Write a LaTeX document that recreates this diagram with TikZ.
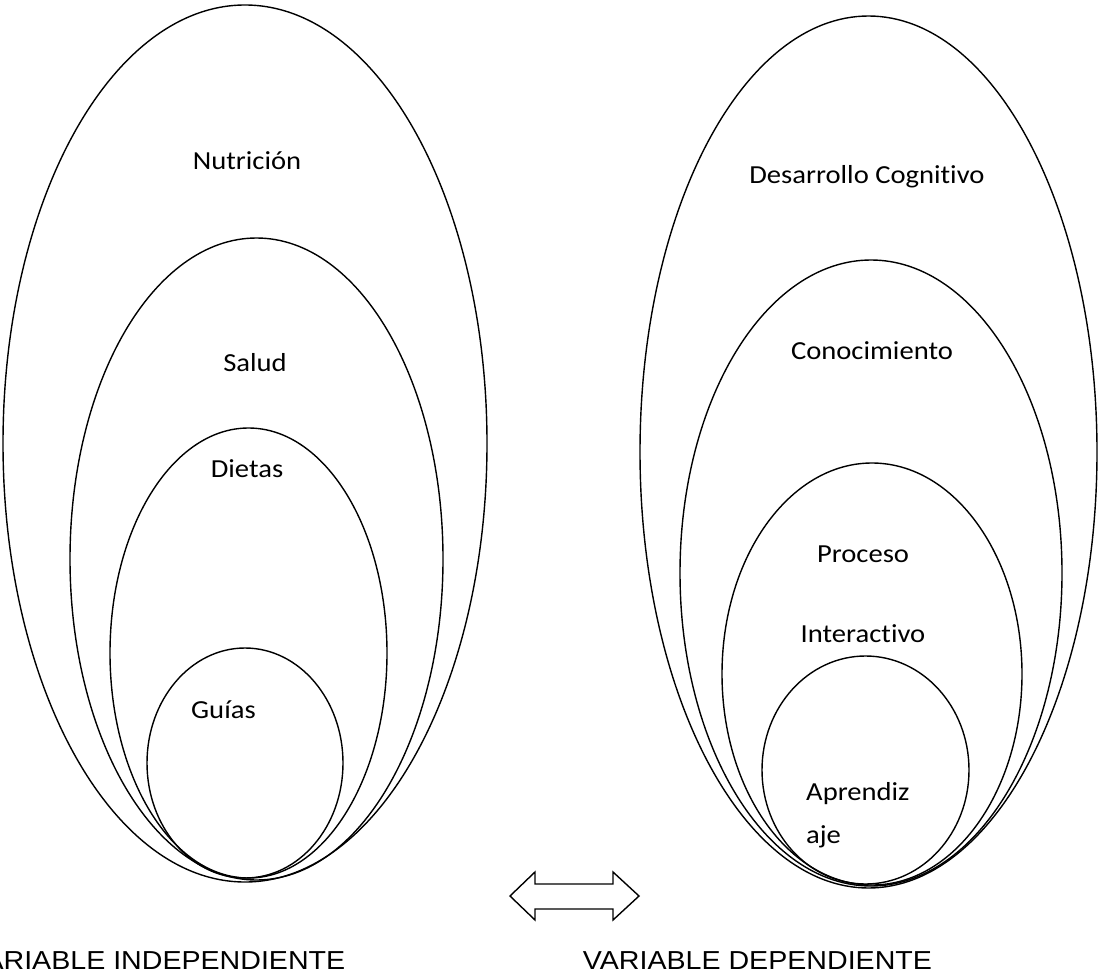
\documentclass[tikz,border=0pt]{standalone}
\usepackage{fontspec}
\newfontfamily\labfont[FakeStretch=1.1,Ligatures=NoCommon]{Carlito}
\newfontfamily\capfont[FakeStretch=1.1]{Liberation Sans}
\begin{document}
\begin{tikzpicture}[x=1pt,y=-1pt,
  ring/.style={draw=black,line width=1.4pt},
  lab/.style={inner sep=0pt,anchor=base,font=\labfont\fontsize{26}{30}\selectfont},
  captext/.style={inner sep=0pt,font=\capfont\fontsize{26}{30}\selectfont}]
\useasboundingbox (0,0) rectangle (1100,979);
\clip (0,0) rectangle (1100,979);
% left ellipses
\draw[ring] (245,443.5) ellipse [x radius=242,y radius=438.5];
\draw[ring] (256.5,559) ellipse [x radius=186.5,y radius=321];
\draw[ring] (248.5,653) ellipse [x radius=138.5,y radius=225];
\draw[ring] (245,763) ellipse [x radius=98,y radius=115];
% right ellipses
\draw[ring] (868.5,452) ellipse [x radius=228.5,y radius=436];
\draw[ring] (871,573) ellipse [x radius=191,y radius=313];
\draw[ring] (872,674) ellipse [x radius=150,y radius=211];
\draw[ring] (865.5,770) ellipse [x radius=103.5,y radius=114];
% labels
\node[lab] (nut) at (247,169) {Nutrición};
\node[lab] (sal) at (255,371) {Salud};
\node[lab] (die) at (247,477) {Dietas};
\node[lab,anchor=base west] (gui) at (191,718) {Guías};
\node[lab] (des) at (867,183) {Desarrollo Cognitivo};
\node[lab] (con) at (872,359) {Conocimiento};
\node[lab] (pro) at (863,562) {Proceso};
\node[lab] (int) at (863,642) {Interactivo};
\node[lab,anchor=base west] (apr) at (806,800) {Aprendiz};
\node[lab,anchor=base west] (aje) at (806,843) {aje};
% double arrow
\draw[line width=1.4pt,line join=miter]
  (510,896) -- (535,872) -- (535,884) -- (613,884) -- (613,872) -- (639,896)
  -- (613,920) -- (613,909) -- (535,909) -- (535,920) -- cycle;
% captions
\node[captext,anchor=base east] (vi) at (345.5,969) {VARIABLE INDEPENDIENTE};
\node[captext,anchor=base west] (vd) at (582.7,969) {VARIABLE DEPENDIENTE};
\end{tikzpicture}
\end{document}
